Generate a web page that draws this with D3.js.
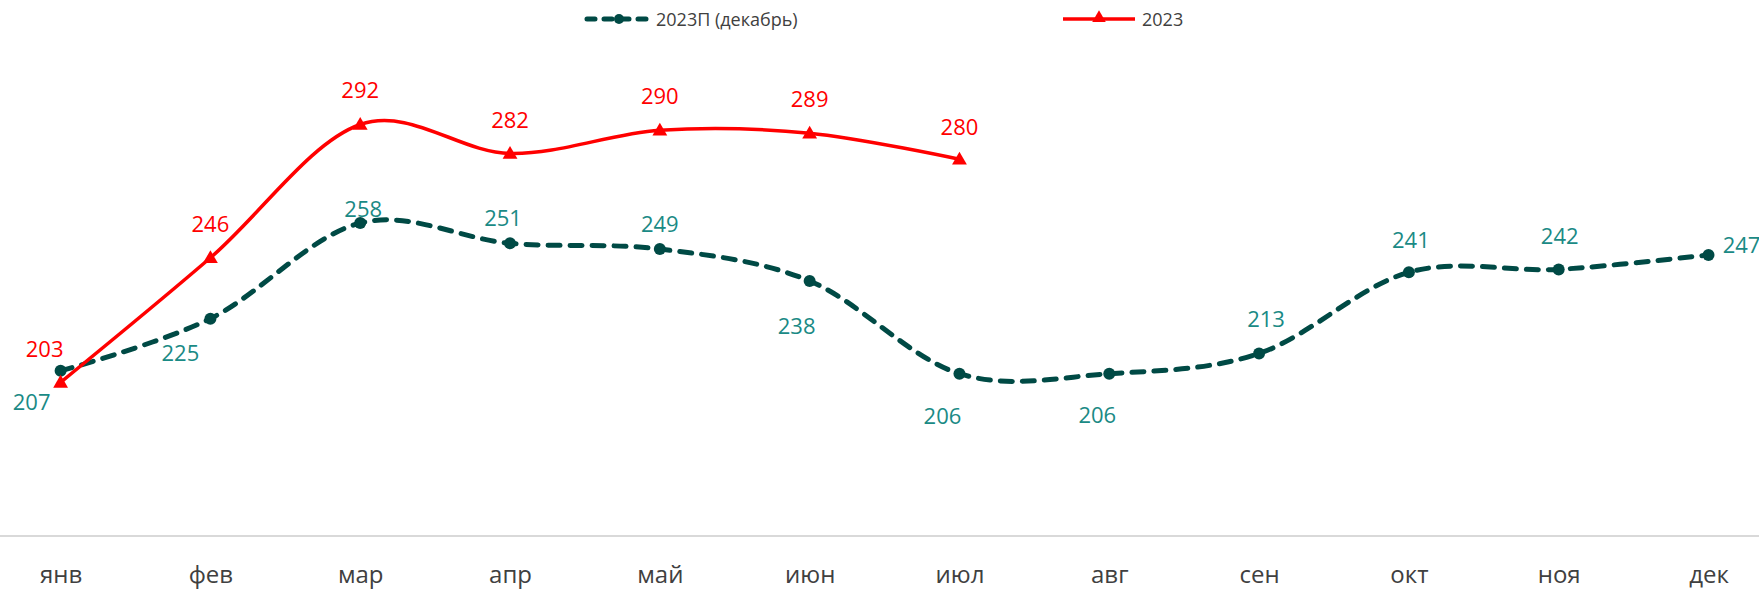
<!DOCTYPE html>
<html>
<head>
<meta charset="utf-8">
<script src="https://cdn.jsdelivr.net/npm/d3@7"></script>
<style>
  body { margin: 0; background: #fff; }
  text { font-family: "Open Sans", sans-serif; }
</style>
</head>
<body>
<div id="plot"></div>
<script>
// size
const w = 1759;
const h = 590;

// data
const months = ["янв", "фев", "мар", "апр", "май", "июн", "июл", "авг", "сен", "окт", "ноя", "дек"];
const forecast = [207, 225, 258, 251, 249, 238, 206, 206, 213, 241, 242, 247];
const actual = [203, 246, 292, 282, 290, 289, 280];
const seriesNames = ["2023П (декабрь)", "2023"];

// label offsets (layout only)
const fcOffset = [[-29, 30], [-30, 33], [3, -15], [-7, -26], [0, -26], [-13, 44],
                  [-17, 41], [-12, 40], [7, -35], [2, -33], [1, -34], [33, -11]];
const acOffset = [[-16, -34], [0, -35], [0, -35], [0, -34], [0, -35], [0, -35], [0, -33]];

const darkTeal = "#004a45";
const labelTeal = "#1a8a85";
const red = "#ff0000";

const svg = d3.select("div#plot")
  .append("svg")
    .attr("width", w)
    .attr("height", h);

svg.append("rect")
  .attr("width", w)
  .attr("height", h)
  .attr("fill", "#fff");

const xScale = d3.scalePoint()
  .domain(months)
  .range([60.6, 1708.5]);

const yScale = d3.scaleLinear()
  .domain([150, 300])
  .range([536, 101.3]);

// x-axis
const xAxis = d3.axisBottom(xScale).tickSize(0).tickPadding(30);
const gx = svg.append("g")
  .attr("id", "xaxis")
  .attr("transform", `translate(0, ${yScale(150)})`)
  .call(xAxis);
gx.select(".domain").remove();
gx.selectAll("text")
  .style("font-size", "24px")
  .attr("fill", "#404040");
gx.append("line")
  .attr("x1", 0)
  .attr("x2", w)
  .attr("stroke", "#d9d9d9")
  .attr("stroke-width", 2);

const line = d3.line()
  .x((d, i) => xScale(months[i]))
  .y(d => yScale(d))
  .curve(d3.curveCardinal.tension(0));

// forecast line
svg.append("path")
  .datum(forecast)
  .attr("d", line)
  .attr("fill", "none")
  .attr("stroke", darkTeal)
  .attr("stroke-width", 5)
  .attr("stroke-dasharray", "12,10")
  .attr("stroke-linecap", "round");

svg.selectAll("circle.fc")
  .data(forecast)
  .enter()
  .append("circle")
    .attr("class", "fc")
    .attr("cx", (d, i) => xScale(months[i]))
    .attr("cy", d => yScale(d))
    .attr("r", 6)
    .attr("fill", darkTeal);

// actual line
svg.append("path")
  .datum(actual)
  .attr("d", line)
  .attr("fill", "none")
  .attr("stroke", red)
  .attr("stroke-width", 3.5);

const tri = d3.symbol().type(d3.symbolTriangle).size(95);
svg.selectAll("path.ac")
  .data(actual)
  .enter()
  .append("path")
    .attr("class", "ac")
    .attr("d", tri)
    .attr("transform", (d, i) => `translate(${xScale(months[i])}, ${yScale(d) + 1})`)
    .attr("fill", red);

// data labels
svg.selectAll("text.fcl")
  .data(forecast)
  .enter()
  .append("text")
    .attr("class", "fcl")
    .attr("x", (d, i) => xScale(months[i]) + fcOffset[i][0])
    .attr("y", (d, i) => yScale(d) + fcOffset[i][1])
    .attr("text-anchor", "middle")
    .attr("dominant-baseline", "central")
    .style("font-size", "22px")
    .attr("fill", labelTeal)
    .text(d => d);

svg.selectAll("text.acl")
  .data(actual)
  .enter()
  .append("text")
    .attr("class", "acl")
    .attr("x", (d, i) => xScale(months[i]) + acOffset[i][0])
    .attr("y", (d, i) => yScale(d) + acOffset[i][1])
    .attr("text-anchor", "middle")
    .attr("dominant-baseline", "central")
    .style("font-size", "22px")
    .attr("fill", red)
    .text(d => d);

// legend
const legend = svg.append("g").attr("id", "legend");

legend.append("line")
  .attr("x1", 587).attr("x2", 650)
  .attr("y1", 19).attr("y2", 19)
  .attr("stroke", darkTeal)
  .attr("stroke-width", 5)
  .attr("stroke-dasharray", "8,9")
  .attr("stroke-linecap", "round");
legend.append("circle")
  .attr("cx", 619).attr("cy", 19).attr("r", 5)
  .attr("fill", darkTeal);
legend.append("text")
  .attr("x", 656).attr("y", 19)
  .attr("dominant-baseline", "central")
  .style("font-size", "18px")
  .attr("fill", "#404040")
  .text(seriesNames[0]);

legend.append("line")
  .attr("x1", 1063).attr("x2", 1135)
  .attr("y1", 19).attr("y2", 19)
  .attr("stroke", red)
  .attr("stroke-width", 3.5);
legend.append("path")
  .attr("d", d3.symbol().type(d3.symbolTriangle).size(80))
  .attr("transform", "translate(1099, 18)")
  .attr("fill", red);
legend.append("text")
  .attr("x", 1142).attr("y", 19)
  .attr("dominant-baseline", "central")
  .style("font-size", "18px")
  .attr("fill", "#404040")
  .text(seriesNames[1]);
</script>
</body>
</html>
